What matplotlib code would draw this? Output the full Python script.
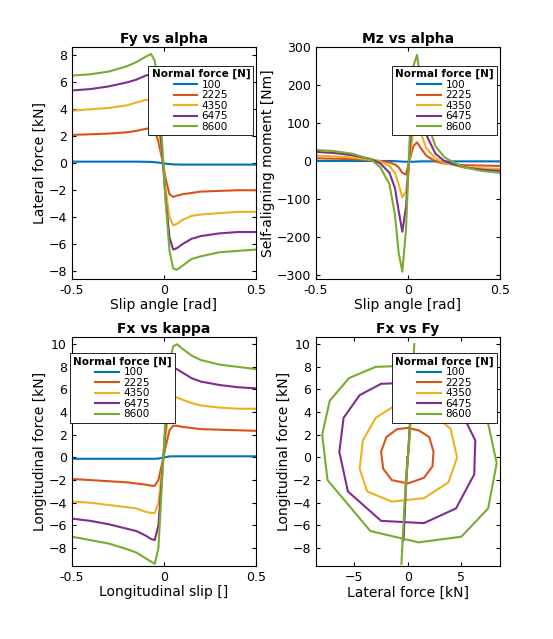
import numpy as np
import matplotlib.pyplot as plt

loads = ['100', '2225', '4350', '6475', '8600']
colors = ['#0072BD', '#D95319', '#EDB120', '#7E2F8E', '#77AC30']

slip = [-0.5, -0.4, -0.3, -0.2, -0.15, -0.1, -0.07, -0.05, -0.03, -0.01,
        0.01, 0.03, 0.05, 0.07, 0.1, 0.15, 0.2, 0.3, 0.4, 0.5]

fy = [
    [0.12, 0.12, 0.12, 0.12, 0.12, 0.11, 0.1, 0.08, 0.05, 0.01, -0.03, -0.06, -0.08, -0.09, -0.1, -0.1, -0.1, -0.1, -0.1, -0.1],
    [2.1, 2.15, 2.2, 2.3, 2.4, 2.55, 2.6, 2.4, 1.6, 0.3, -1.2, -2.3, -2.5, -2.4, -2.3, -2.2, -2.1, -2.05, -2.0, -2.0],
    [3.9, 4.0, 4.1, 4.3, 4.5, 4.7, 4.7, 4.2, 2.8, 0.5, -2.0, -4.0, -4.6, -4.5, -4.2, -3.9, -3.8, -3.7, -3.6, -3.6],
    [5.4, 5.5, 5.7, 6.0, 6.2, 6.5, 6.6, 6.0, 4.0, 0.8, -2.8, -5.5, -6.4, -6.3, -6.0, -5.6, -5.4, -5.2, -5.1, -5.1],
    [6.5, 6.6, 6.8, 7.2, 7.5, 7.9, 8.1, 7.6, 5.5, 1.5, -3.0, -6.5, -7.8, -7.9, -7.6, -7.1, -6.9, -6.6, -6.5, -6.4],
]

mz = [
    [1, 1, 1, 1, 1, 1, 0.5, 0, -0.5, -1, -1, -1, -0.5, 0, 0, 0, 0, 0, 0, 0],
    [8, 7, 6, 3, 1, -3, -8, -16, -30, -35, 5, 40, 50, 35, 15, 0, -6, -10, -11, -12],
    [15, 13, 10, 4, 0, -12, -30, -60, -95, -80, 10, 80, 100, 75, 35, 8, -5, -15, -18, -20],
    [25, 22, 16, 6, -5, -30, -70, -130, -185, -120, 30, 160, 190, 140, 70, 20, 0, -15, -22, -25],
    [30, 27, 20, 5, -15, -60, -140, -240, -290, -180, 60, 250, 280, 210, 110, 40, 10, -15, -25, -30],
]

fx = [
    [-0.12, -0.12, -0.12, -0.12, -0.12, -0.12, -0.12, -0.12, -0.1, -0.03, 0.03, 0.09, 0.1, 0.1, 0.1, 0.1, 0.1, 0.1, 0.1, 0.1],
    [-1.9, -2.0, -2.1, -2.2, -2.3, -2.4, -2.5, -2.5, -2.0, -0.5, 1.0, 2.4, 2.8, 2.8, 2.7, 2.6, 2.5, 2.45, 2.4, 2.35],
    [-3.9, -4.0, -4.2, -4.4, -4.5, -4.8, -4.9, -4.9, -4.0, -1.0, 2.0, 4.6, 5.3, 5.3, 5.1, 4.8, 4.6, 4.4, 4.3, 4.3],
    [-5.4, -5.6, -5.9, -6.3, -6.5, -6.9, -7.2, -7.3, -6.0, -1.5, 3.0, 6.8, 7.8, 7.8, 7.5, 7.0, 6.7, 6.4, 6.2, 6.1],
    [-7.0, -7.3, -7.6, -8.1, -8.4, -8.9, -9.2, -9.4, -8.0, -2.0, 4.0, 8.5, 9.8, 10.0, 9.6, 9.0, 8.6, 8.2, 8.0, 7.8],
]

# friction-circle loops (lateral, longitudinal)
loop_y = [
    [0.0, 0.05, 0.0, -0.05, 0.0],
    [0.0, -1.0, -2.0, -2.5, -2.3, -1.5, 0.0, 1.5, 2.3, 2.4, 2.0, 1.0, 0.0],
    [0.0, -1.5, -3.0, -4.2, -4.5, -3.8, -1.5, 1.5, 3.8, 4.6, 4.0, 2.5, 0.0],
    [0.0, -2.5, -4.5, -6.0, -6.4, -5.6, -2.5, 1.5, 4.5, 6.2, 6.3, 5.0, 3.0, 0.0],
    [0.0, -3.0, -5.5, -7.3, -8.0, -7.5, -3.5, 1.0, 5.0, 7.5, 8.3, 7.5, 5.5, 3.0, 0.0],
]
loop_x = [
    [0.0, 0.0, 0.0, 0.0, 0.0],
    [2.6, 2.5, 1.8, 0.5, -1.0, -2.0, -2.3, -1.8, -0.8, 0.5, 1.8, 2.4, 2.6],
    [4.3, 4.4, 3.5, 1.5, -1.0, -3.0, -3.9, -3.6, -2.2, 0.0, 2.5, 3.8, 4.3],
    [6.6, 6.5, 5.5, 3.5, 0.5, -3.0, -5.6, -5.8, -4.5, -1.5, 1.5, 4.0, 5.5, 6.6],
    [8.1, 8.0, 7.0, 5.0, 2.0, -2.0, -6.5, -7.5, -7.0, -4.5, -0.5, 3.0, 5.5, 7.0, 8.1],
]
loop_y2 = [
    [0.0, 0.0],
    [-0.2, -0.1, 0.0, 0.1, 0.2],
    [-0.3, -0.2, 0.0, 0.2, 0.3],
    [-0.4, -0.2, 0.0, 0.2, 0.4],
    [-0.6, -0.3, 0.0, 0.3, 0.6],
]
loop_x2 = [
    [0.0, 0.0],
    [-2.5, -1.0, 0.0, 1.0, 2.8],
    [-4.9, -2.0, 0.0, 2.0, 5.3],
    [-7.3, -3.0, 0.0, 3.0, 7.8],
    [-9.4, -4.0, 0.0, 4.0, 10.0],
]

fig = plt.figure(figsize=(5.53, 6.39), dpi=100)
pos = [[0.130, 0.563, 0.333, 0.363], [0.571, 0.563, 0.333, 0.363],
       [0.130, 0.114, 0.333, 0.358], [0.571, 0.114, 0.333, 0.358]]
axs = [fig.add_axes(p) for p in pos]

for i in range(5):
    axs[0].plot(slip, fy[i], color=colors[i], lw=1.5, label=loads[i])
    axs[1].plot(slip, mz[i], color=colors[i], lw=1.5, label=loads[i])
    axs[2].plot(slip, fx[i], color=colors[i], lw=1.5, label=loads[i])
    axs[3].plot(loop_y[i], loop_x[i], color=colors[i], lw=1.5, label=loads[i])
    axs[3].plot(loop_y2[i], loop_x2[i], color=colors[i], lw=1.5)

titles = ['Fy vs alpha', 'Mz vs alpha', 'Fx vs kappa', 'Fx vs Fy']
xlabels = ['Slip angle [rad]', 'Slip angle [rad]', 'Longitudinal slip []', 'Lateral force [kN]']
ylabels = ['Lateral force [kN]', 'Self-aligning moment [Nm]', 'Longitudinal force [kN]', 'Longitudinal force [kN]']
anchors = [(0.985, 0.92), (0.985, 0.92), (0.56, 0.93), (0.985, 0.93)]
for ax, t, xl, yl, anc in zip(axs, titles, xlabels, ylabels, anchors):
    ax.set_title(t, fontweight='bold', fontsize=10, pad=3)
    ax.set_xlabel(xl, fontsize=10, labelpad=1)
    ax.set_ylabel(yl, fontsize=10, labelpad=1)
    ax.tick_params(direction='in', labelsize=9, top=True, right=True, length=3)
    leg = ax.legend(loc='upper right', bbox_to_anchor=anc, title='Normal force [N]',
                    fontsize=7.5, fancybox=False, edgecolor='black', framealpha=1,
                    borderaxespad=0, handlelength=2.3, labelspacing=0.05,
                    borderpad=0.3, handletextpad=0.4)
    leg.get_title().set_fontweight('bold')
    leg.get_title().set_fontsize(7.5)
    leg.get_frame().set_linewidth(0.6)

for ax in axs[:3]:
    ax.set_xlim(-0.5, 0.5)
    ax.set_xticks([-0.5, 0, 0.5])
    ax.set_xticklabels(['-0.5', '0', '0.5'])
axs[0].set_ylim(-8.6, 8.6)
axs[0].set_yticks(range(-8, 9, 2))
axs[1].set_ylim(-310, 300)
axs[1].set_yticks(range(-300, 301, 100))
axs[2].set_ylim(-9.6, 10.6)
axs[2].set_yticks(range(-8, 11, 2))
axs[3].set_xlim(-8.6, 8.6)
axs[3].set_xticks([-5, 0, 5])
axs[3].set_ylim(-9.6, 10.6)
axs[3].set_yticks(range(-8, 11, 2))

fig.savefig('out.png', dpi=100)
